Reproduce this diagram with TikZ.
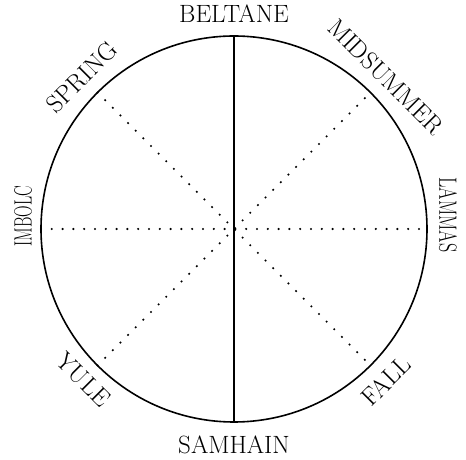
\documentclass[tikz,border=0pt]{standalone}
\usepackage{fontspec}
\usepackage{tikz}
\usetikzlibrary{positioning}

\begin{document}
\begin{tikzpicture}[
x=1pt, y=1pt,
season/.style={font=\fontsize{25}{27}\selectfont, inner sep=0pt},
rim/.style={line width=1.6pt},
axis/.style={line width=1.3pt},
guide/.style={line width=2.4pt, dash pattern=on 0pt off 10.8pt, line cap=round}
]
\useasboundingbox (-234,-231) rectangle (232,229);

% ---------- WHEEL ----------

\coordinate (c) at (0,0);
\coordinate (n) at (90:193);
\coordinate (s) at (270:193);
\coordinate (e) at (0:193);
\coordinate (w) at (180:193);
\coordinate (ne) at (45:193);
\coordinate (nw) at (135:193);
\coordinate (se) at (315:193);
\coordinate (sw) at (225:193);

\draw[rim] (c) circle (193);

% ---------- LABELS ----------

\node[season] (beltane) at (90:215) {BELTANE};
\node[season] (samhain) at (270:216) {SAMHAIN};
\node[season, rotate=90] (imbolc) at (-211,13) {\scalebox{0.64}[1]{IMBOLC}};
\node[season, rotate=-90] (lammas) at (214,14) {\scalebox{0.72}[1]{LAMMAS}};
\node[season, rotate=45] (spring) at (135:215) {SPRING};
\node[season, rotate=-45] (midsummer) at (45:215) {MIDSUMMER};
\node[season, rotate=-45] (yule) at (225:213) {YULE};
\node[season, rotate=45] (fall) at (315:215) {FALL};

% ---------- SPOKES ----------

\draw[axis] (n) -- (s);
\draw[guide] (w) -- (e);
\draw[guide] (nw) -- (se);
\draw[guide] (sw) -- (ne);

\end{tikzpicture}
\end{document}
